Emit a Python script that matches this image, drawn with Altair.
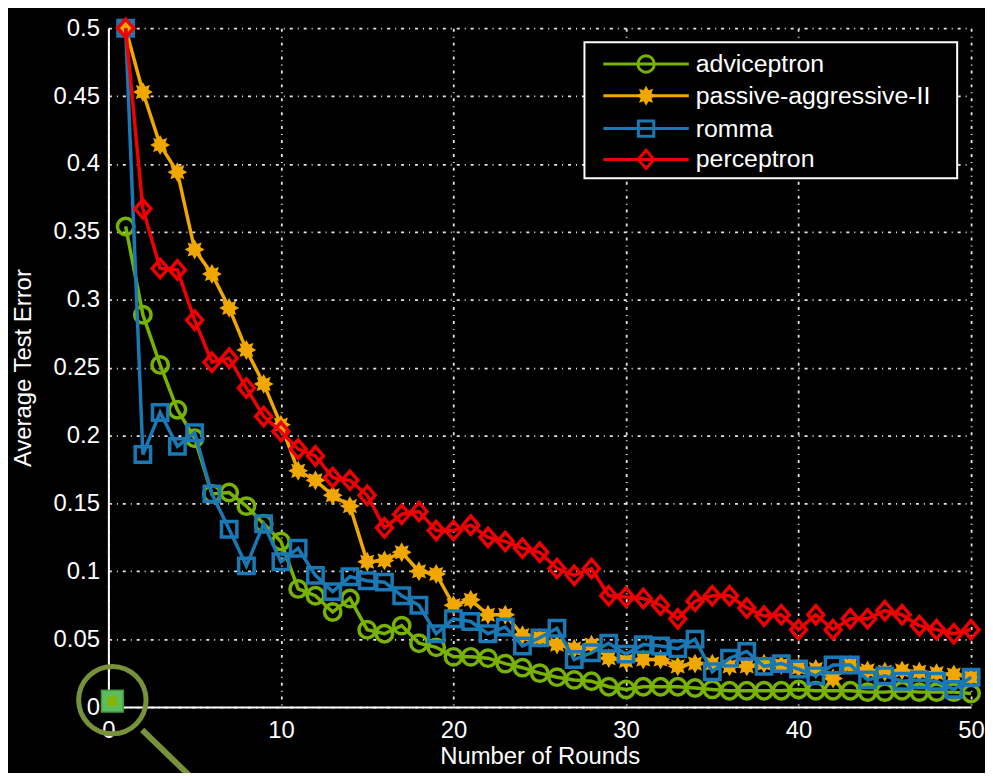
import altair as alt
import pandas as pd

rounds = list(range(1, 51))

adviceptron = [0.354, 0.289, 0.252, 0.219, 0.198, 0.157, 0.158, 0.148, 0.135, 0.122,
               0.087, 0.082, 0.070, 0.080, 0.057, 0.054, 0.060, 0.047, 0.044, 0.037,
               0.037, 0.036, 0.032, 0.029, 0.025, 0.022, 0.020, 0.019, 0.015, 0.013,
               0.015, 0.015, 0.015, 0.014, 0.013, 0.012, 0.012, 0.012, 0.012, 0.013,
               0.012, 0.012, 0.012, 0.011, 0.011, 0.012, 0.011, 0.011, 0.011, 0.010]

passive_aggressive_ii = [0.500, 0.453, 0.414, 0.394, 0.337, 0.319, 0.294, 0.263, 0.238, 0.208,
                         0.174, 0.167, 0.156, 0.148, 0.107, 0.108, 0.114, 0.100, 0.098, 0.075,
                         0.079, 0.068, 0.068, 0.053, 0.051, 0.046, 0.043, 0.046, 0.036, 0.034,
                         0.035, 0.035, 0.030, 0.032, 0.032, 0.030, 0.030, 0.032, 0.031, 0.029,
                         0.028, 0.021, 0.031, 0.027, 0.026, 0.027, 0.026, 0.025, 0.024, 0.022]

romma = [0.500, 0.186, 0.217, 0.192, 0.202, 0.157, 0.131, 0.104, 0.135, 0.107,
         0.117, 0.097, 0.085, 0.096, 0.093, 0.092, 0.082, 0.075, 0.054, 0.065,
         0.063, 0.054, 0.059, 0.045, 0.051, 0.058, 0.035, 0.040, 0.047, 0.039,
         0.046, 0.045, 0.043, 0.050, 0.026, 0.036, 0.041, 0.030, 0.032, 0.028,
         0.023, 0.031, 0.031, 0.020, 0.023, 0.019, 0.020, 0.019, 0.013, 0.022]

perceptron = [0.500, 0.367, 0.323, 0.322, 0.285, 0.254, 0.257, 0.235, 0.214, 0.203,
              0.190, 0.185, 0.169, 0.167, 0.156, 0.132, 0.142, 0.144, 0.130, 0.130,
              0.134, 0.125, 0.122, 0.117, 0.114, 0.102, 0.097, 0.102, 0.082, 0.081,
              0.080, 0.075, 0.065, 0.078, 0.082, 0.082, 0.073, 0.067, 0.068, 0.057,
              0.068, 0.057, 0.065, 0.065, 0.071, 0.068, 0.060, 0.057, 0.054, 0.057]

series_names = ["adviceptron", "passive-aggressive-II", "romma", "perceptron"]
series_values = [adviceptron, passive_aggressive_ii, romma, perceptron]
series_colors = ["#77b300", "#f0a800", "#1a78b4", "#f00000"]

x_ticks = [0, 10, 20, 30, 40, 50]
y_ticks = [0, 0.05, 0.1, 0.15, 0.2, 0.25, 0.3, 0.35, 0.4, 0.45, 0.5]

STAR = ("M0,-1L0.25,-0.55L0.71,-0.71L0.55,-0.25L1,0L0.55,0.25L0.71,0.71L0.25,0.55"
        "L0,1L-0.25,0.55L-0.71,0.71L-0.55,0.25L-1,0L-0.55,-0.25L-0.71,-0.71L-0.25,-0.55Z")
DIAMOND = "M0,-1.15L1,0L0,1.15L-1,0Z"
marker_styles = [
    dict(shape="circle", filled=False, size=272),
    dict(shape=STAR, filled=True, size=400),
    dict(shape="square", filled=False, size=240),
    dict(shape=DIAMOND, filled=False, size=256),
]

rows = []
for name, vals in zip(series_names, series_values):
    for r, v in zip(rounds, vals):
        rows.append({"series": name, "round": r, "error": v})
df = pd.DataFrame(rows)

FONT = "Liberation Sans"

X = alt.X("round:Q", scale=alt.Scale(domain=[0, 50], nice=False, zero=False),
          axis=alt.Axis(values=x_ticks, title="Number of Rounds", format="d"))
Y = alt.Y("error:Q", scale=alt.Scale(domain=[0, 0.5], nice=False),
          axis=alt.Axis(values=y_ticks, title="Average Test Error", format="~g"))

base = alt.Chart(df)
layers = []
for name, color, st in zip(series_names, series_colors, marker_styles):
    sub = base.transform_filter(alt.datum.series == name)
    layers.append(sub.mark_line(color=color, strokeWidth=3.5, clip=False).encode(x=X, y=Y))
    layers.append(sub.mark_point(shape=st["shape"], filled=st["filled"], color=color,
                                 size=st["size"], strokeWidth=3.5, opacity=1, clip=False)
                  .encode(x=X, y=Y))

# legend (drawn manually, MATLAB-style with line through marker)
one = alt.Chart(pd.DataFrame({"k": [0]}))
layers.append(one.mark_rect(fill="black", stroke="white", strokeWidth=2)
              .encode(x=alt.value(479), x2=alt.value(854), y=alt.value(14), y2=alt.value(151)))
legend_y = [36, 68, 101, 132]
for name, color, st, ly in zip(series_names, series_colors, marker_styles, legend_y):
    layers.append(one.mark_rule(color=color, strokeWidth=3)
                  .encode(x=alt.value(498), x2=alt.value(584), y=alt.value(ly)))
    layers.append(one.mark_point(shape=st["shape"], filled=st["filled"], color=color,
                                 size=st["size"], strokeWidth=3, opacity=1)
                  .encode(x=alt.value(541), y=alt.value(ly)))
    layers.append(one.mark_text(text=name, align="left", baseline="middle", font=FONT,
                                fontSize=25, color="white")
                  .encode(x=alt.value(591), y=alt.value(ly)))

# annotation near the origin
layers.append(one.mark_point(shape="square", filled=True, fill="#5cbd5c", stroke="#3f9a3f",
                             strokeWidth=1.5, size=480, opacity=1)
              .encode(x=alt.value(4), y=alt.value(677)))
layers.append(one.mark_point(shape="square", filled=True, color="#86b400", size=90, opacity=1)
              .encode(x=alt.value(4), y=alt.value(677)))
layers.append(one.mark_point(shape="circle", filled=False, color="#77923a", strokeWidth=5,
                             size=4600, opacity=1)
              .encode(x=alt.value(4), y=alt.value(676)))
layers.append(one.mark_rule(color="#77923a", strokeWidth=6)
              .encode(x=alt.value(34), y=alt.value(706), x2=alt.value(95), y2=alt.value(765)))

chart = (
    alt.layer(*layers)
    .properties(width=868, height=683, background="black",
                autosize=alt.AutoSizeParams(type="none"),
                padding={"left": 101, "top": 18, "right": 14, "bottom": 64})
    .configure_view(stroke=None)
    .configure_axis(domainColor="white", domainWidth=2, gridColor="white",
                    gridDash=[3, 5, 1, 5], gridWidth=1.8, gridOpacity=0.9,
                    labelColor="white", labelFont=FONT, labelFontSize=24,
                    labelFlush=False, labelOverlap=False,
                    titleColor="white", titleFont=FONT, titleFontSize=24,
                    titleFontWeight="normal", ticks=False)
    .configure_axisX(labelPadding=12, titlePadding=2)
    .configure_axisY(labelPadding=9, titlePadding=18)
)

chart.save("out.html", embed_options={"renderer": "svg", "actions": False})
